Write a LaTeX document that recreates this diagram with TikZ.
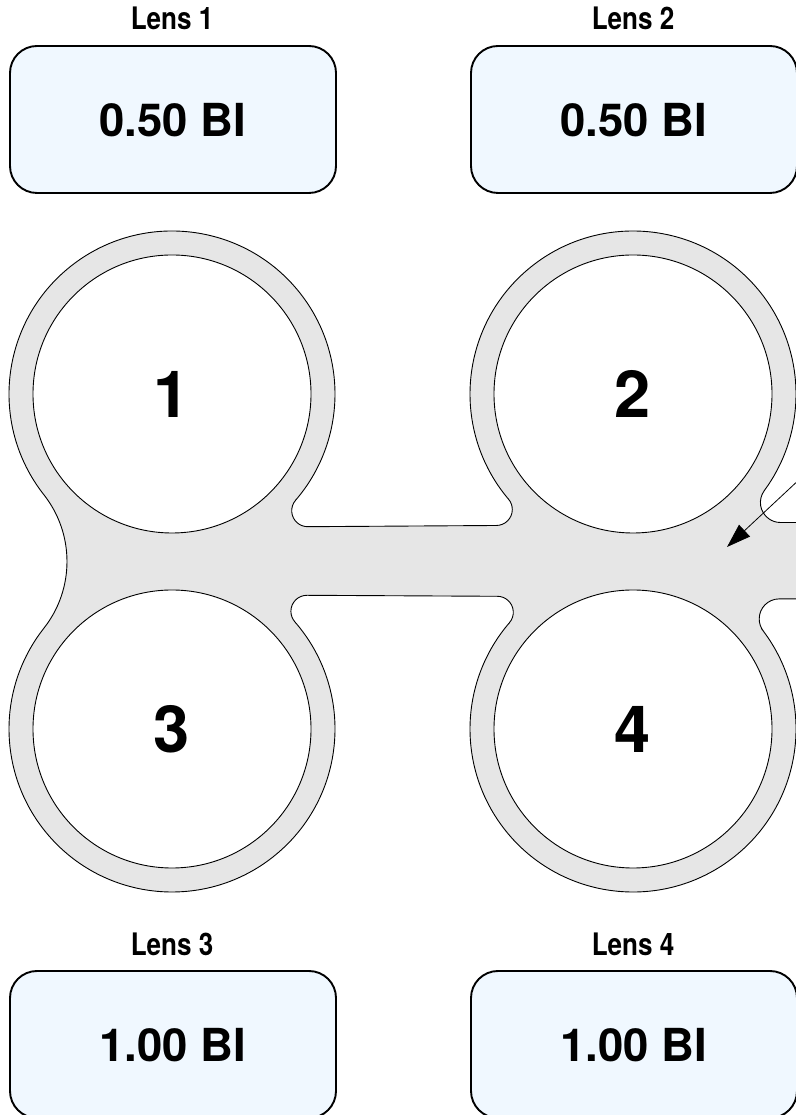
\documentclass[tikz,border=0pt]{standalone}
\usepackage{fontspec}
\setmainfont{TeX Gyre Heros}
\usetikzlibrary{calc}
\usetikzlibrary{arrows.meta}
\definecolor{myboxblue}{HTML}{F0F8FF}
\definecolor{mygray}{HTML}{E6E6E6}
\tikzset{
  lensbox/.style={draw, line width=1.9pt, fill=myboxblue, rounded corners=27pt, minimum width=326pt, minimum height=147pt, inner sep=0pt, text height=35pt, text depth=0pt, font=\bfseries\fontsize{45.5}{50}\selectfont},
  lenslabel/.style={anchor=base, inner sep=0pt, xscale=0.84, transform shape, font=\bfseries\fontsize{31}{34}\selectfont},
  lenshole/.style={draw, line width=0.9pt, fill=white, circle, minimum size=278pt, inner sep=0pt, text height=47.5pt, text depth=0pt, font=\bfseries\fontsize{65}{68}\selectfont},
}

\begin{document}
\begin{tikzpicture}[x=1pt,y=1pt]
    \useasboundingbox (0,0) rectangle (795,1115);

    \pgfmathsetmacro\rout{163} % outer radius of a lens ring
    \pgfmathsetmacro\rslot{16}
    \pgfmathsetmacro\rend{20}
    \pgfmathsetmacro\rleft{107.9}

    \coordinate (A) at (172,721);
    \coordinate (B) at (633,721);
    \coordinate (C) at (172,386);
    \coordinate (D) at (633,386);
    \coordinate (L) at (-40.9,553.5);
    \coordinate (F1) at (307.7,604.3);
    \coordinate (F2) at (496.3,605.5);
    \coordinate (F3) at (780.4,612.5);
    \coordinate (F4) at (779.2,496.1);
    \coordinate (F5) at (497.3,502.7);
    \coordinate (F6) at (306.9,503.7);

    % plate outline
    \draw[fill=mygray, line width=0.9pt]
      ($(A)+(218.2:\rout pt)$) arc (218.2:-40.7:\rout pt)
      -- ($(F1)+(139.3:\rslot pt)$) arc (139.3:270:\rslot pt)
      -- ($(F2)+(270:\rslot pt)$) arc (270:400.2:\rslot pt)
      -- ($(B)+(220.2:\rout pt)$) arc (220.2:-36.35:\rout pt)
      -- ($(F3)+(143.65:\rend pt)$) arc (143.65:270:\rend pt)
      -- (805,592.5) -- (805,516.1)
      -- ($(F4)+(90:\rend pt)$) arc (90:217:\rend pt)
      -- ($(D)+(37:\rout pt)$) arc (37:-220.7:\rout pt)
      -- ($(F5)+(-40.7:\rslot pt)$) arc (-40.7:90:\rslot pt)
      -- ($(F6)+(90:\rslot pt)$) arc (90:221.1:\rslot pt)
      -- ($(C)+(41.1:\rout pt)$) arc (41.1:-218.2:\rout pt)
      -- ($(L)+(-38.2:\rleft pt)$) arc (-38.2:38.2:\rleft pt)
      -- cycle;

    \node[lenshole] (hole1) at (A) {1};
    \node[lenshole] (hole2) at (B) {2};
    \node[lenshole] (hole3) at (C) {3};
    \node[lenshole] (hole4) at (D) {4};

    \node[lensbox] (box1) at (173,995.5) {0.50 BI};
    \node[lensbox] (box2) at (634,995.5) {0.50 BI};
    \node[lensbox] (box3) at (173,70.5) {1.00 BI};
    \node[lensbox] (box4) at (634,70.5) {1.00 BI};

    \node[lenslabel] (label1) at (172,1085) {Lens 1};
    \node[lenslabel] (label2) at (633,1085) {Lens 2};
    \node[lenslabel] (label3) at (172,159) {Lens 3};
    \node[lenslabel] (label4) at (633,159) {Lens 4};

    \coordinate (start) at (802,638);
    \coordinate (tip) at (727,568);
    \draw[-{Triangle[length=24pt,width=16pt]}, line width=0.8pt] (start) -- (tip);
\end{tikzpicture}
\end{document}
